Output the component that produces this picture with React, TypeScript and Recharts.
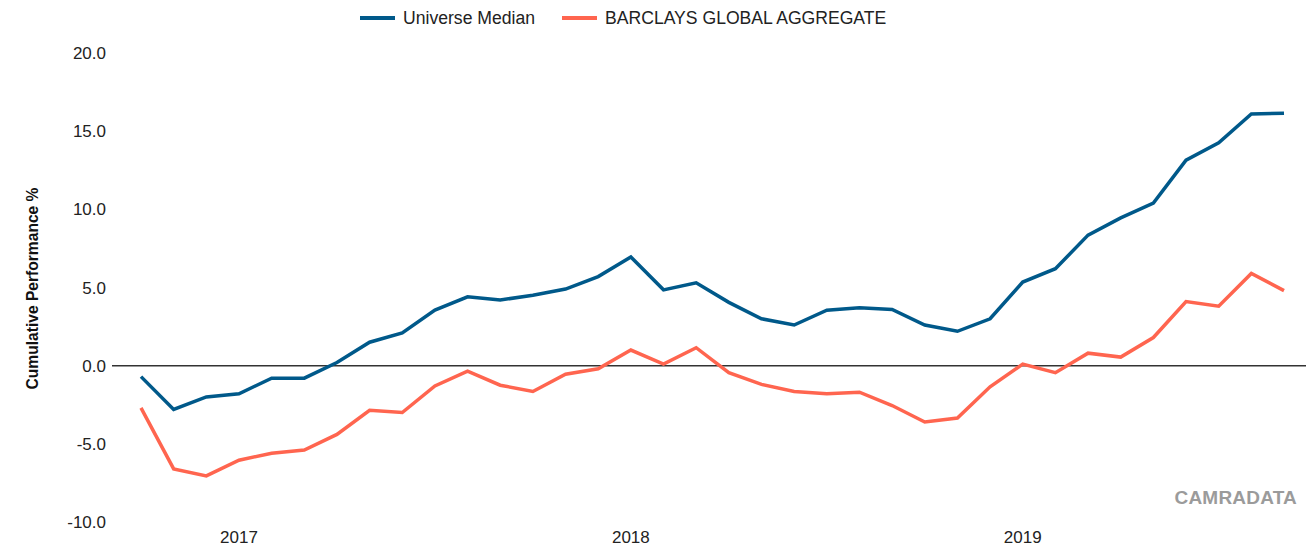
import React from 'react';
import { LineChart, Line, XAxis, YAxis, ReferenceLine } from 'recharts';

// monthly observations, Oct 2016 - Sep 2019
const months = [
  'Oct 2016', 'Nov 2016', 'Dec 2016',
  'Jan 2017', 'Feb 2017', 'Mar 2017', 'Apr 2017', 'May 2017', 'Jun 2017',
  'Jul 2017', 'Aug 2017', 'Sep 2017', 'Oct 2017', 'Nov 2017', 'Dec 2017',
  'Jan 2018', 'Feb 2018', 'Mar 2018', 'Apr 2018', 'May 2018', 'Jun 2018',
  'Jul 2018', 'Aug 2018', 'Sep 2018', 'Oct 2018', 'Nov 2018', 'Dec 2018',
  'Jan 2019', 'Feb 2019', 'Mar 2019', 'Apr 2019', 'May 2019', 'Jun 2019',
  'Jul 2019', 'Aug 2019', 'Sep 2019',
];

const universeMedian = [
  -0.7, -2.8, -2.0, -1.8, -0.8, -0.8, 0.2, 1.5, 2.1, 3.55, 4.4, 4.2,
  4.5, 4.9, 5.7, 6.95, 4.85, 5.3, 4.05, 3.0, 2.6, 3.55, 3.7, 3.6,
  2.6, 2.2, 3.0, 5.35, 6.2, 8.35, 9.45, 10.4, 13.15, 14.25, 16.1, 16.15,
];

const barclaysGlobalAgg = [
  -2.7, -6.6, -7.05, -6.05, -5.6, -5.4, -4.4, -2.85, -3.0, -1.3, -0.35, -1.25,
  -1.65, -0.55, -0.2, 1.0, 0.1, 1.15, -0.45, -1.2, -1.65, -1.8, -1.7, -2.55,
  -3.6, -3.35, -1.35, 0.1, -0.45, 0.8, 0.55, 1.8, 4.1, 3.8, 5.9, 4.8,
];

const yearTicks = ['Jan 2017', 'Jan 2018', 'Jan 2019'];
const yTicks = [-10, -5, 0, 5, 10, 15, 20];

const BLUE = '#00598A';
const ORANGE = '#FF654F';
const FONT = '"Liberation Sans", Arial, sans-serif';

const data = months.map((m, i) => ({
  month: m,
  median: universeMedian[i],
  barclays: barclaysGlobalAgg[i],
}));

const LegendItem = ({ color, label }: { color: string; label: string }) => (
  <div style={{ display: 'flex', alignItems: 'center', marginRight: 27 }}>
    <div style={{ width: 35, height: 4, background: color, marginRight: 8 }} />
    <span>{label}</span>
  </div>
);

export default function App() {
  return (
    <div style={{ position: 'absolute', left: 0, top: 0, width: 1306, height: 554, fontFamily: FONT, background: '#fff' }}>
      <div
        style={{
          position: 'absolute', left: 360, top: 7, display: 'flex', alignItems: 'center',
          fontSize: 17.6, color: '#222', lineHeight: '22px',
        }}
      >
        <LegendItem color={BLUE} label="Universe Median" />
        <LegendItem color={ORANGE} label="BARCLAYS GLOBAL AGGREGATE" />
      </div>
      <LineChart width={1306} height={554} data={data} margin={{ top: 53, right: 0, bottom: 0, left: 0 }}>
        <XAxis
          dataKey="month"
          ticks={yearTicks}
          interval={0}
          tickFormatter={(v: string) => v.slice(4)}
          axisLine={false}
          tickLine={false}
          tickSize={0}
          tickMargin={9}
          height={32}
          padding={{ left: 29, right: 22 }}
          tick={{ fill: '#222', fontSize: 17, fontFamily: FONT }}
        />
        <YAxis
          domain={[-10, 20]}
          ticks={yTicks}
          width={112}
          axisLine={false}
          tickLine={false}
          tickSize={0}
          tickMargin={6}
          tickFormatter={(v: number) => v.toFixed(1)}
          tick={{ fill: '#222', fontSize: 17, fontFamily: FONT }}
          label={{
            value: 'Cumulative Performance %',
            angle: -90,
            position: 'center',
            dx: -24,
            dy: 1,
            style: { fill: '#111', fontSize: 15.6, fontWeight: 'bold', fontFamily: FONT },
          }}
        />
        <ReferenceLine y={0} stroke="#333" strokeWidth={1.5} />
        <Line
          type="linear"
          dataKey="median"
          stroke={BLUE}
          strokeWidth={3.5}
          dot={false}
          isAnimationActive={false}
        />
        <Line
          type="linear"
          dataKey="barclays"
          stroke={ORANGE}
          strokeWidth={3.5}
          dot={false}
          isAnimationActive={false}
        />
      </LineChart>
      <div
        style={{
          position: 'absolute', right: 9, top: 487, fontSize: 19, fontWeight: 'bold',
          color: '#9b9b9b', letterSpacing: 0.2,
        }}
      >
        CAMRADATA
      </div>
    </div>
  );
}
